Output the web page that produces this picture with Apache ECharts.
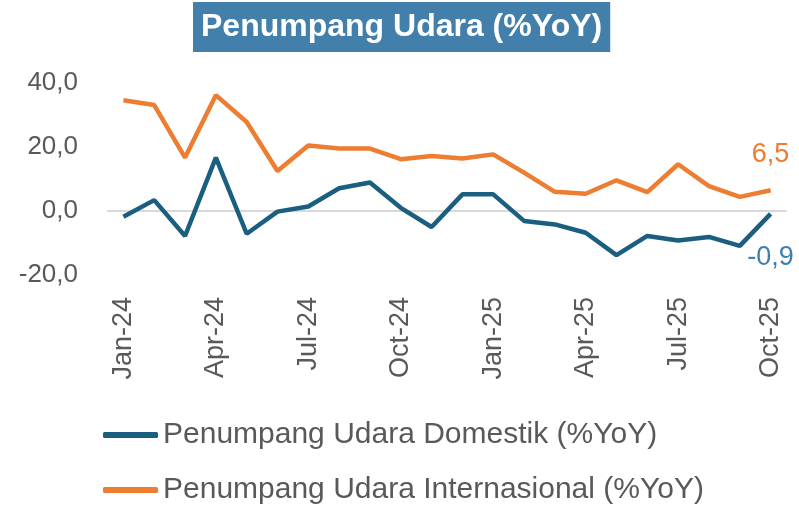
<!DOCTYPE html>
<html><head><meta charset="utf-8">
<script src="https://cdn.jsdelivr.net/npm/echarts@6/dist/echarts.min.js"></script>
<style>html,body{margin:0;padding:0;background:#fff}#c{width:799px;height:507px}</style>
</head><body><div id="c"></div>
<script>
const categories = ["Jan-24","Feb-24","Mar-24","Apr-24","May-24","Jun-24","Jul-24","Aug-24","Sep-24","Oct-24","Nov-24","Dec-24","Jan-25","Feb-25","Mar-25","Apr-25","May-25","Jun-25","Jul-25","Aug-25","Sep-25","Oct-25"];
const domestik = [-1.8,3.4,-7.8,16.7,-7.1,-0.2,1.4,7.1,8.9,1.0,-5.0,5.2,5.2,-3.1,-4.2,-6.8,-13.8,-7.8,-9.2,-8.1,-10.9,-0.9];
const internasional = [34.6,33.1,16.7,36.2,27.8,12.5,20.5,19.5,19.5,16.2,17.2,16.4,17.7,12.0,6.0,5.4,9.6,5.9,14.6,7.8,4.4,6.5];
const yTicks = [-20,0,20,40];
const seriesNames = ["Penumpang Udara Domestik (%YoY)","Penumpang Udara Internasional (%YoY)"];
const titleText = "Penumpang Udara (%YoY)";

const fmt = v => v.toFixed(1).replace('.', ',');
const lastIdx = categories.length - 1;
const chart = echarts.init(document.getElementById('c'));
const FONT = "'Liberation Sans', Arial, sans-serif";
const legendBase = {
  orient:'horizontal', left:103, padding:0,
  icon:'roundRect', itemWidth:55, itemHeight:6,
  textStyle:{color:'#595959',fontSize:30,fontFamily:FONT,lineHeight:30}
};
chart.setOption({
  animation:false,
  title:{
    text:titleText, left:193, top:2,
    backgroundColor:'#4280ab',
    padding:[8,8,8,8],
    textStyle:{color:'#fff',fontSize:32,fontWeight:'bold',fontFamily:FONT,lineHeight:34}
  },
  legend:[
    Object.assign({}, legendBase, {top:420, data:[seriesNames[0]]}),
    Object.assign({}, legendBase, {top:475, data:[seriesNames[1]]})
  ],
  grid:{left:108,right:13,top:83,bottom:232},
  xAxis:{
    type:'category', data:categories, boundaryGap:true,
    axisLine:{show:true,onZero:true,lineStyle:{color:'#d9d9d9',width:2}},
    axisTick:{show:false},
    axisLabel:{interval:2,rotate:90,color:'#595959',fontSize:27,fontFamily:FONT,margin:22}
  },
  yAxis:{
    type:'value', min:-20, max:40, interval:20,
    splitLine:{show:false}, axisLine:{show:false}, axisTick:{show:false},
    axisLabel:{color:'#595959',fontSize:26,fontFamily:FONT,margin:30,formatter:fmt}
  },
  series:[
    {name:seriesNames[0],type:'line',data:domestik,symbol:'none',
     lineStyle:{color:'#1a5e80',width:4.5},itemStyle:{color:'#1a5e80'},
     markPoint:{symbol:'circle',symbolSize:0,data:[{coord:[lastIdx,domestik[lastIdx]],value:domestik[lastIdx]}],
       label:{show:true,position:'bottom',distance:30,color:'#3e7fae',fontSize:27,fontFamily:FONT,formatter:p=>fmt(p.value)}}},
    {name:seriesNames[1],type:'line',data:internasional,symbol:'none',
     lineStyle:{color:'#ed7d31',width:4.5},itemStyle:{color:'#ed7d31'},
     markPoint:{symbol:'circle',symbolSize:0,data:[{coord:[lastIdx,internasional[lastIdx]],value:internasional[lastIdx]}],
       label:{show:true,position:'top',distance:22,color:'#ed7d31',fontSize:27,fontFamily:FONT,formatter:p=>fmt(p.value)}}}
  ]
});
</script></body></html>
